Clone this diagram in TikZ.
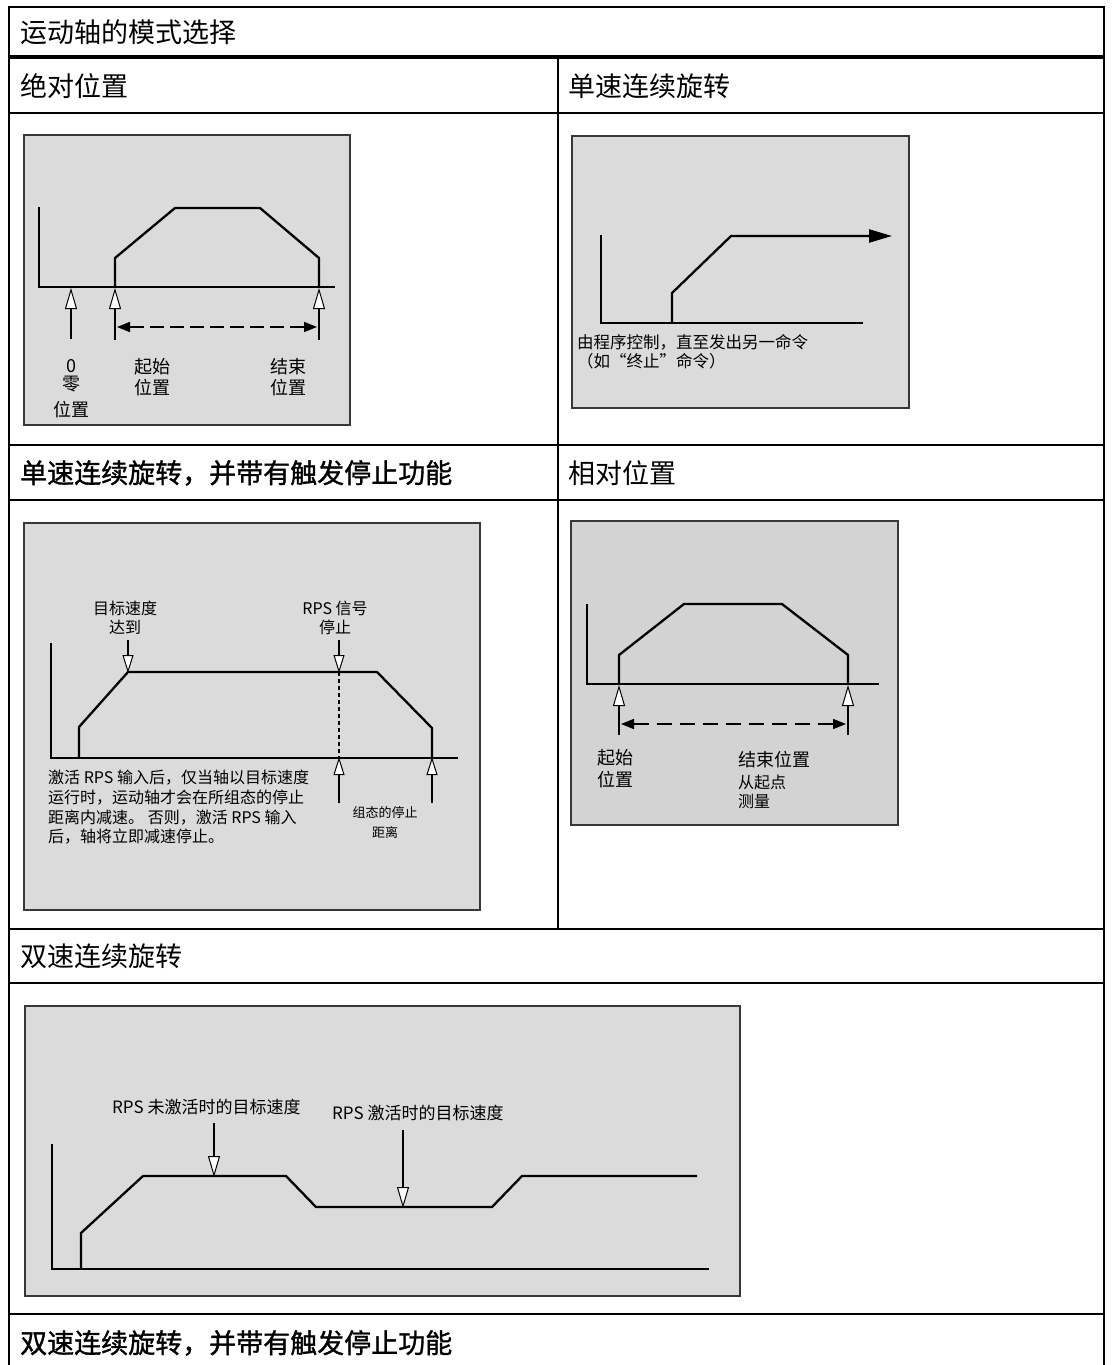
\documentclass[tikz,border=0pt]{standalone}
\usepackage{fontspec}
\setmainfont{Noto Sans CJK SC}
\newfontfamily\cjkb{Noto Sans CJK SC}[FakeBold=1.2]
\usetikzlibrary{arrows.meta}
\definecolor{pg}{RGB}{219,219,219}
\definecolor{pgb}{RGB}{211,211,211}
\begin{document}
\begin{tikzpicture}[x=1pt,y=-1pt,
  tbl/.style={line width=2.6pt},
  panel/.style={fill=pg, draw=black!78, line width=1.4pt},
  crv/.style={line width=2.3pt, line join=miter},
  hd/.style={anchor=west, inner sep=0pt, font=\fontsize{27}{30}\selectfont},
  lbl/.style={inner sep=0pt, font=\fontsize{18}{20}\selectfont},
  sm/.style={inner sep=0pt, font=\fontsize{16}{18}\selectfont},
  oarr/.style={line width=2.3pt, -{Triangle[fill=white, length=21pt, width=12pt, line width=1pt]}},
  oarrs/.style={line width=2.2pt, -{Triangle[fill=white, length=18pt, width=11pt, line width=1pt]}},
  darr/.style={line width=1.6pt, dash pattern=on 14pt off 6pt, {Triangle[length=13pt,width=10pt]}-{Triangle[length=13pt,width=10pt]}},
]
\useasboundingbox (0,0) rectangle (1112,1365);
\fill[white] (0,0) rectangle (1112,1365);

% ---------- table ----------
\draw[tbl] (9,1365) -- (9,7) -- (1104,7) -- (1104,1365);
\draw[line width=4.2pt] (9,57) -- (1104,57);
\draw[tbl] (9,113) -- (1104,113);
\draw[tbl] (9,445) -- (1104,445);
\draw[tbl] (9,500) -- (1104,500);
\draw[tbl] (9,929) -- (1104,929);
\draw[tbl] (9,983) -- (1104,983);
\draw[tbl] (9,1314) -- (1104,1314);
\draw[tbl] (558,57) -- (558,929);

\node[hd] (h0) at (20,32) {运动轴的模式选择};
\node[hd] (h1) at (20,86) {绝对位置};
\node[hd] (h2) at (568,86) {单速连续旋转};
\node[hd, font=\fontsize{27}{30}\cjkb] (h3) at (20,473) {单速连续旋转，并带有触发停止功能};
\node[hd] (h4) at (568,473) {相对位置};
\node[hd] (h5) at (20,956) {双速连续旋转};
\node[hd, font=\fontsize{27}{30}\cjkb] (h6) at (20,1343) {双速连续旋转，并带有触发停止功能};

% ---------- panel 1: absolute position ----------
\draw[panel] (24,135) rectangle (350,425);
\draw[crv] (39,207) -- (39,287) -- (335,287);
\draw[crv] (115,287) -- (115,258) -- (175,208) -- (260,208) -- (319,258) -- (319,287);
\draw[oarr] (71,339) -- (71,288);
\draw[oarr] (115,340) -- (115,288);
\draw[oarr] (319,340) -- (319,288);
\draw[darr] (117,327) -- (317,327);
\node[lbl] (p1a) at (71,366) {0};
\node[lbl] (p1b) at (71,384) {零};
\node[lbl] (p1c) at (71,410) {位置};
\node[lbl] (p1d) at (152,367) {起始};
\node[lbl] (p1e) at (152,388) {位置};
\node[lbl] (p1f) at (288,367) {结束};
\node[lbl] (p1g) at (288,388) {位置};

% ---------- panel 2: single speed ----------
\draw[panel] (572,136) rectangle (909,408);
\draw[crv] (601,235) -- (601,323) -- (863,323);
\draw[crv, -{Triangle[length=23pt,width=13pt]}] (672,323) -- (672,293) -- (731,236) -- (892,236);
\node[sm, anchor=west, font=\fontsize{16.5}{18}\selectfont] (p2a) at (577,342) {由程序控制，直至发出另一命令};
\node[sm, anchor=west, font=\fontsize{16.5}{18}\selectfont] (p2b) at (577,361) {（如“终止”命令）};

% ---------- panel 3: single speed with trigger stop ----------
\draw[panel] (24,523) rectangle (480,910);
\draw[crv] (51,643) -- (51,758) -- (458,758);
\draw[crv] (79,758) -- (79,727) -- (128,672) -- (377,672) -- (432,728) -- (432,758);
\draw[line width=2pt, dash pattern=on 4pt off 3pt] (339,672) -- (339,758);
\draw[oarrs] (128,640) -- (128,673);
\draw[oarrs] (339,640) -- (339,673);
\draw[oarrs] (339,803) -- (339,757);
\draw[oarrs] (432,803) -- (432,757);
\node[sm] (p3a) at (125,608) {目标速度};
\node[sm] (p3b) at (125,627) {达到};
\node[sm] (p3c) at (335,608) {RPS 信号};
\node[sm] (p3d) at (335,627) {停止};
\node[sm, anchor=west] (p3e) at (48,778) {激活 RPS 输入后，仅当轴以目标速度};
\node[sm, anchor=west] (p3f) at (48,798) {运行时，运动轴才会在所组态的停止};
\node[sm, anchor=west] (p3g) at (48,818) {距离内减速。 否则，激活 RPS 输入};
\node[sm, anchor=west] (p3h) at (48,837) {后，轴将立即减速停止。};
\node[inner sep=0pt, font=\fontsize{13}{15}\selectfont] (p3i) at (385,813) {组态的停止};
\node[inner sep=0pt, font=\fontsize{13}{15}\selectfont] (p3j) at (385,832) {距离};

% ---------- panel 4: relative position ----------
\draw[panel, fill=pgb] (571,521) rectangle (898,825);
\draw[crv] (587,604) -- (587,684) -- (879,684);
\draw[crv] (619,684) -- (619,655) -- (684,604) -- (782,604) -- (848,655) -- (848,684);
\draw[oarr] (619,735) -- (619,685);
\draw[oarr] (848,735) -- (848,685);
\draw[darr, dash pattern=on 15pt off 8pt] (621,724) -- (846,724);
\node[lbl, anchor=west] (p4a) at (597,758) {起始};
\node[lbl, anchor=west] (p4b) at (597,780) {位置};
\node[lbl, anchor=west] (p4c) at (738,760) {结束位置};
\node[sm, anchor=west] (p4d) at (738,782) {从起点};
\node[sm, anchor=west] (p4e) at (738,801) {测量};

% ---------- panel 5: dual speed ----------
\draw[panel] (25,1006) rectangle (740,1296);
\draw[crv] (52,1144) -- (52,1269) -- (709,1269);
\draw[crv] (81,1269) -- (81,1233) -- (143,1176) -- (286,1176) -- (316,1207) -- (492,1207) -- (522,1176) -- (697,1176);
\draw[line width=2.2pt, -{Triangle[fill=white, length=21pt, width=12pt, line width=1pt]}] (214,1123) -- (214,1177);
\draw[line width=2.2pt, -{Triangle[fill=white, length=21pt, width=12pt, line width=1pt]}] (403,1130) -- (403,1208);
\node[sm, anchor=west, font=\fontsize{17}{19}\selectfont] (p5a) at (112,1107) {RPS 未激活时的目标速度};
\node[sm, anchor=west, font=\fontsize{17}{19}\selectfont] (p5b) at (332,1113) {RPS 激活时的目标速度};
\end{tikzpicture}
\end{document}
